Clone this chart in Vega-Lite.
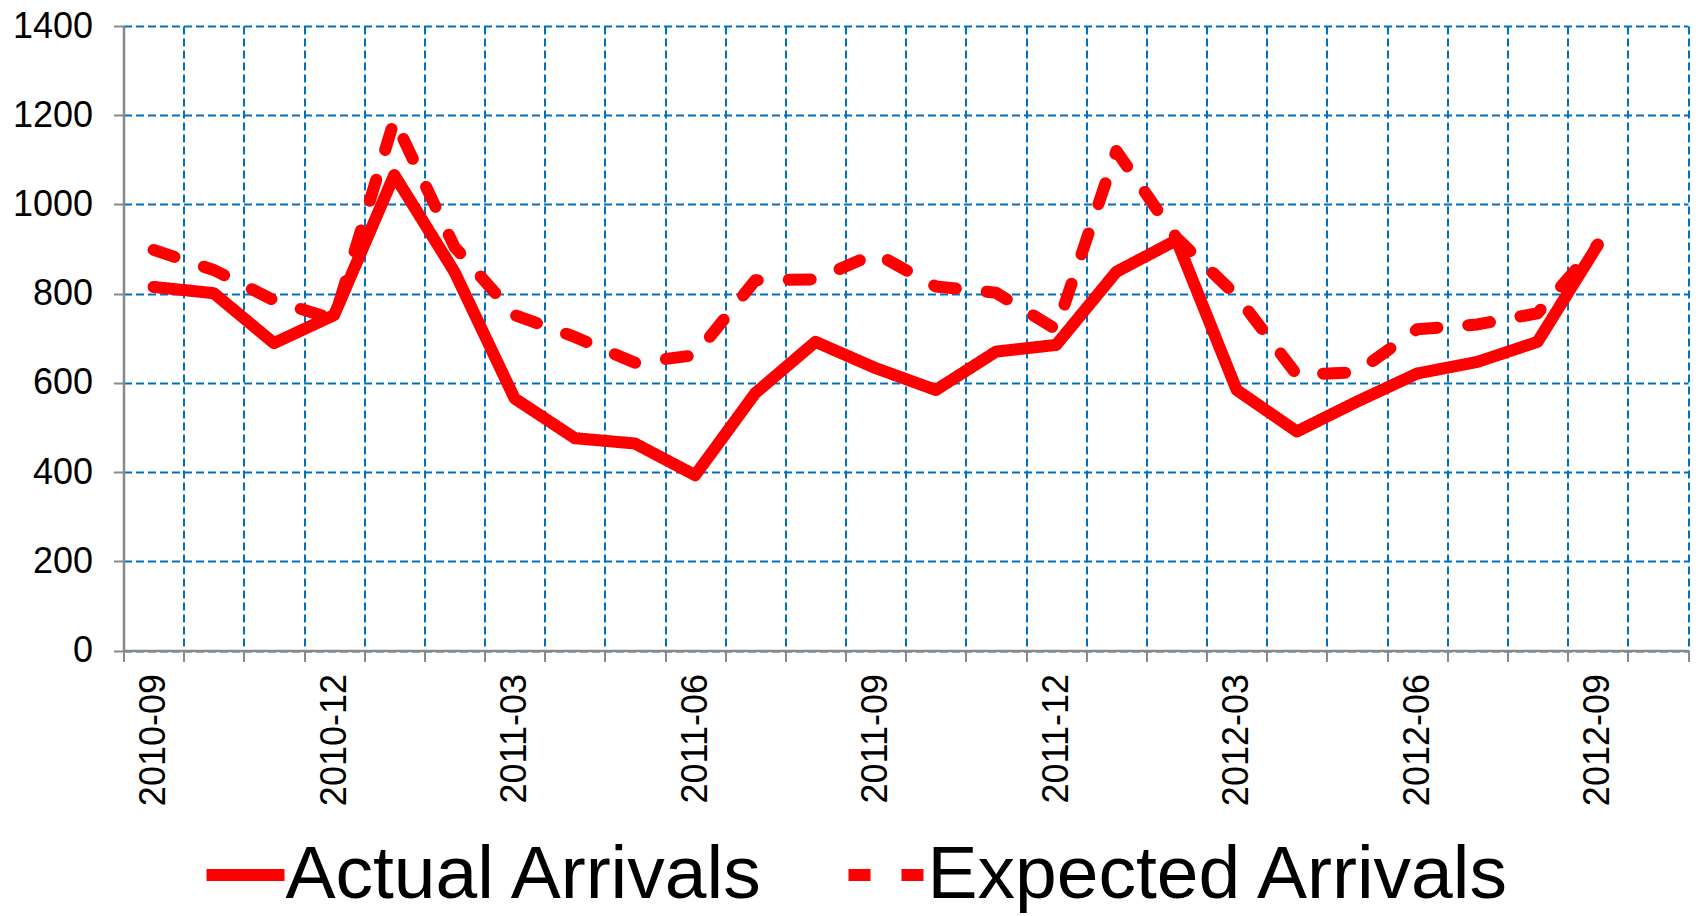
{
  "$schema": "https://vega.github.io/schema/vega-lite/v6.json",
  "width": 1564.5,
  "height": 624.5,
  "autosize": "none",
  "padding": {"left": 123.5, "top": 26, "right": 12, "bottom": 265.5},
  "background": "white",
  "config": {"view": {"stroke": null}, "font": "Liberation Sans"},
  "datasets": {
    "arrivals": [
      {"month": "2010-09", "series": "Actual Arrivals", "value": 815},
      {"month": "2010-10", "series": "Actual Arrivals", "value": 801},
      {"month": "2010-11", "series": "Actual Arrivals", "value": 689},
      {"month": "2010-12", "series": "Actual Arrivals", "value": 752},
      {"month": "2011-01", "series": "Actual Arrivals", "value": 1066},
      {"month": "2011-02", "series": "Actual Arrivals", "value": 849},
      {"month": "2011-03", "series": "Actual Arrivals", "value": 565},
      {"month": "2011-04", "series": "Actual Arrivals", "value": 476},
      {"month": "2011-05", "series": "Actual Arrivals", "value": 464},
      {"month": "2011-06", "series": "Actual Arrivals", "value": 393},
      {"month": "2011-07", "series": "Actual Arrivals", "value": 577},
      {"month": "2011-08", "series": "Actual Arrivals", "value": 692},
      {"month": "2011-09", "series": "Actual Arrivals", "value": 633},
      {"month": "2011-10", "series": "Actual Arrivals", "value": 584},
      {"month": "2011-11", "series": "Actual Arrivals", "value": 670},
      {"month": "2011-12", "series": "Actual Arrivals", "value": 685},
      {"month": "2012-01", "series": "Actual Arrivals", "value": 849},
      {"month": "2012-02", "series": "Actual Arrivals", "value": 920},
      {"month": "2012-03", "series": "Actual Arrivals", "value": 584},
      {"month": "2012-04", "series": "Actual Arrivals", "value": 491},
      {"month": "2012-05", "series": "Actual Arrivals", "value": 558},
      {"month": "2012-06", "series": "Actual Arrivals", "value": 621},
      {"month": "2012-07", "series": "Actual Arrivals", "value": 647},
      {"month": "2012-08", "series": "Actual Arrivals", "value": 692},
      {"month": "2012-09", "series": "Actual Arrivals", "value": 909},
      {"month": "2010-09", "series": "Expected Arrivals", "value": 898},
      {"month": "2010-10", "series": "Expected Arrivals", "value": 853},
      {"month": "2010-11", "series": "Expected Arrivals", "value": 785},
      {"month": "2010-12", "series": "Expected Arrivals", "value": 742},
      {"month": "2011-01", "series": "Expected Arrivals", "value": 1190},
      {"month": "2011-02", "series": "Expected Arrivals", "value": 905},
      {"month": "2011-03", "series": "Expected Arrivals", "value": 752},
      {"month": "2011-04", "series": "Expected Arrivals", "value": 703},
      {"month": "2011-05", "series": "Expected Arrivals", "value": 645},
      {"month": "2011-06", "series": "Expected Arrivals", "value": 662},
      {"month": "2011-07", "series": "Expected Arrivals", "value": 830},
      {"month": "2011-08", "series": "Expected Arrivals", "value": 832},
      {"month": "2011-09", "series": "Expected Arrivals", "value": 890},
      {"month": "2011-10", "series": "Expected Arrivals", "value": 816},
      {"month": "2011-11", "series": "Expected Arrivals", "value": 802},
      {"month": "2011-12", "series": "Expected Arrivals", "value": 720},
      {"month": "2012-01", "series": "Expected Arrivals", "value": 1120},
      {"month": "2012-02", "series": "Expected Arrivals", "value": 925},
      {"month": "2012-03", "series": "Expected Arrivals", "value": 795},
      {"month": "2012-04", "series": "Expected Arrivals", "value": 618},
      {"month": "2012-05", "series": "Expected Arrivals", "value": 624},
      {"month": "2012-06", "series": "Expected Arrivals", "value": 720},
      {"month": "2012-07", "series": "Expected Arrivals", "value": 731},
      {"month": "2012-08", "series": "Expected Arrivals", "value": 756},
      {"month": "2012-09", "series": "Expected Arrivals", "value": 910}
    ]
  },
  "data": {"name": "arrivals"},
  "mark": {"type": "line", "strokeWidth": 12, "strokeCap": "round", "strokeJoin": "round", "color": "#FF0000", "clip": false},
  "encoding": {
    "x": {
      "field": "month",
      "type": "ordinal",
      "sort": null,
      "scale": {
        "type": "band",
        "paddingInner": 0,
        "paddingOuter": 0,
        "domain": ["2010-09","2010-10","2010-11","2010-12","2011-01","2011-02","2011-03","2011-04","2011-05","2011-06","2011-07","2011-08","2011-09","2011-10","2011-11","2011-12","2012-01","2012-02","2012-03","2012-04","2012-05","2012-06","2012-07","2012-08","2012-09","2012-10"]
      },
      "axis": {
        "title": null,
        "tickBand": "extent",
        "labelExpr": "test(/-(03|06|09|12)$/, datum.value) ? datum.label : ''",
        "labelAngle": -90,
        "labelFont": "Liberation Sans",
        "labelFontSize": 36,
        "labelColor": "#000000",
        "labelPadding": 12,
        "labelOverlap": false,
        "tickSize": 11,
        "tickColor": "#898989",
        "tickWidth": 2,
        "domainColor": "#898989",
        "domainWidth": 2.5,
        "grid": true,
        "gridColor": "#0070C0",
        "gridDash": [8, 4],
        "gridWidth": 2,
        "gridOpacity": 1
      }
    },
    "y": {
      "field": "value",
      "type": "quantitative",
      "scale": {"domain": [0, 1400], "nice": false, "zero": true},
      "axis": {
        "title": null,
        "format": "d",
        "values": [0, 200, 400, 600, 800, 1000, 1200, 1400],
        "labelFont": "Liberation Sans",
        "labelFontSize": 36,
        "labelColor": "#000000",
        "labelPadding": 21,
        "tickSize": 10,
        "tickColor": "#898989",
        "tickWidth": 2,
        "domainColor": "#898989",
        "domainWidth": 2.5,
        "grid": true,
        "gridColor": "#0070C0",
        "gridDash": [8, 4],
        "gridWidth": 2,
        "gridOpacity": 1
      }
    },
    "strokeDash": {
      "field": "series",
      "type": "nominal",
      "scale": {"domain": ["Actual Arrivals", "Expected Arrivals"], "range": [[1, 0], [22, 31]]},
      "legend": {
        "title": null,
        "orient": "none",
        "legendX": 77,
        "legendY": 804,
        "direction": "horizontal",
        "symbolType": "stroke",
        "symbolSize": 6084,
        "symbolStrokeWidth": 12,
        "symbolStrokeColor": "#FF0000",
        "labelFont": "Liberation Sans",
        "labelFontSize": 75,
        "labelColor": "#000000",
        "labelOffset": -5,
        "labelLimit": 2000,
        "columnPadding": 59,
        "padding": 0
      }
    }
  }
}
